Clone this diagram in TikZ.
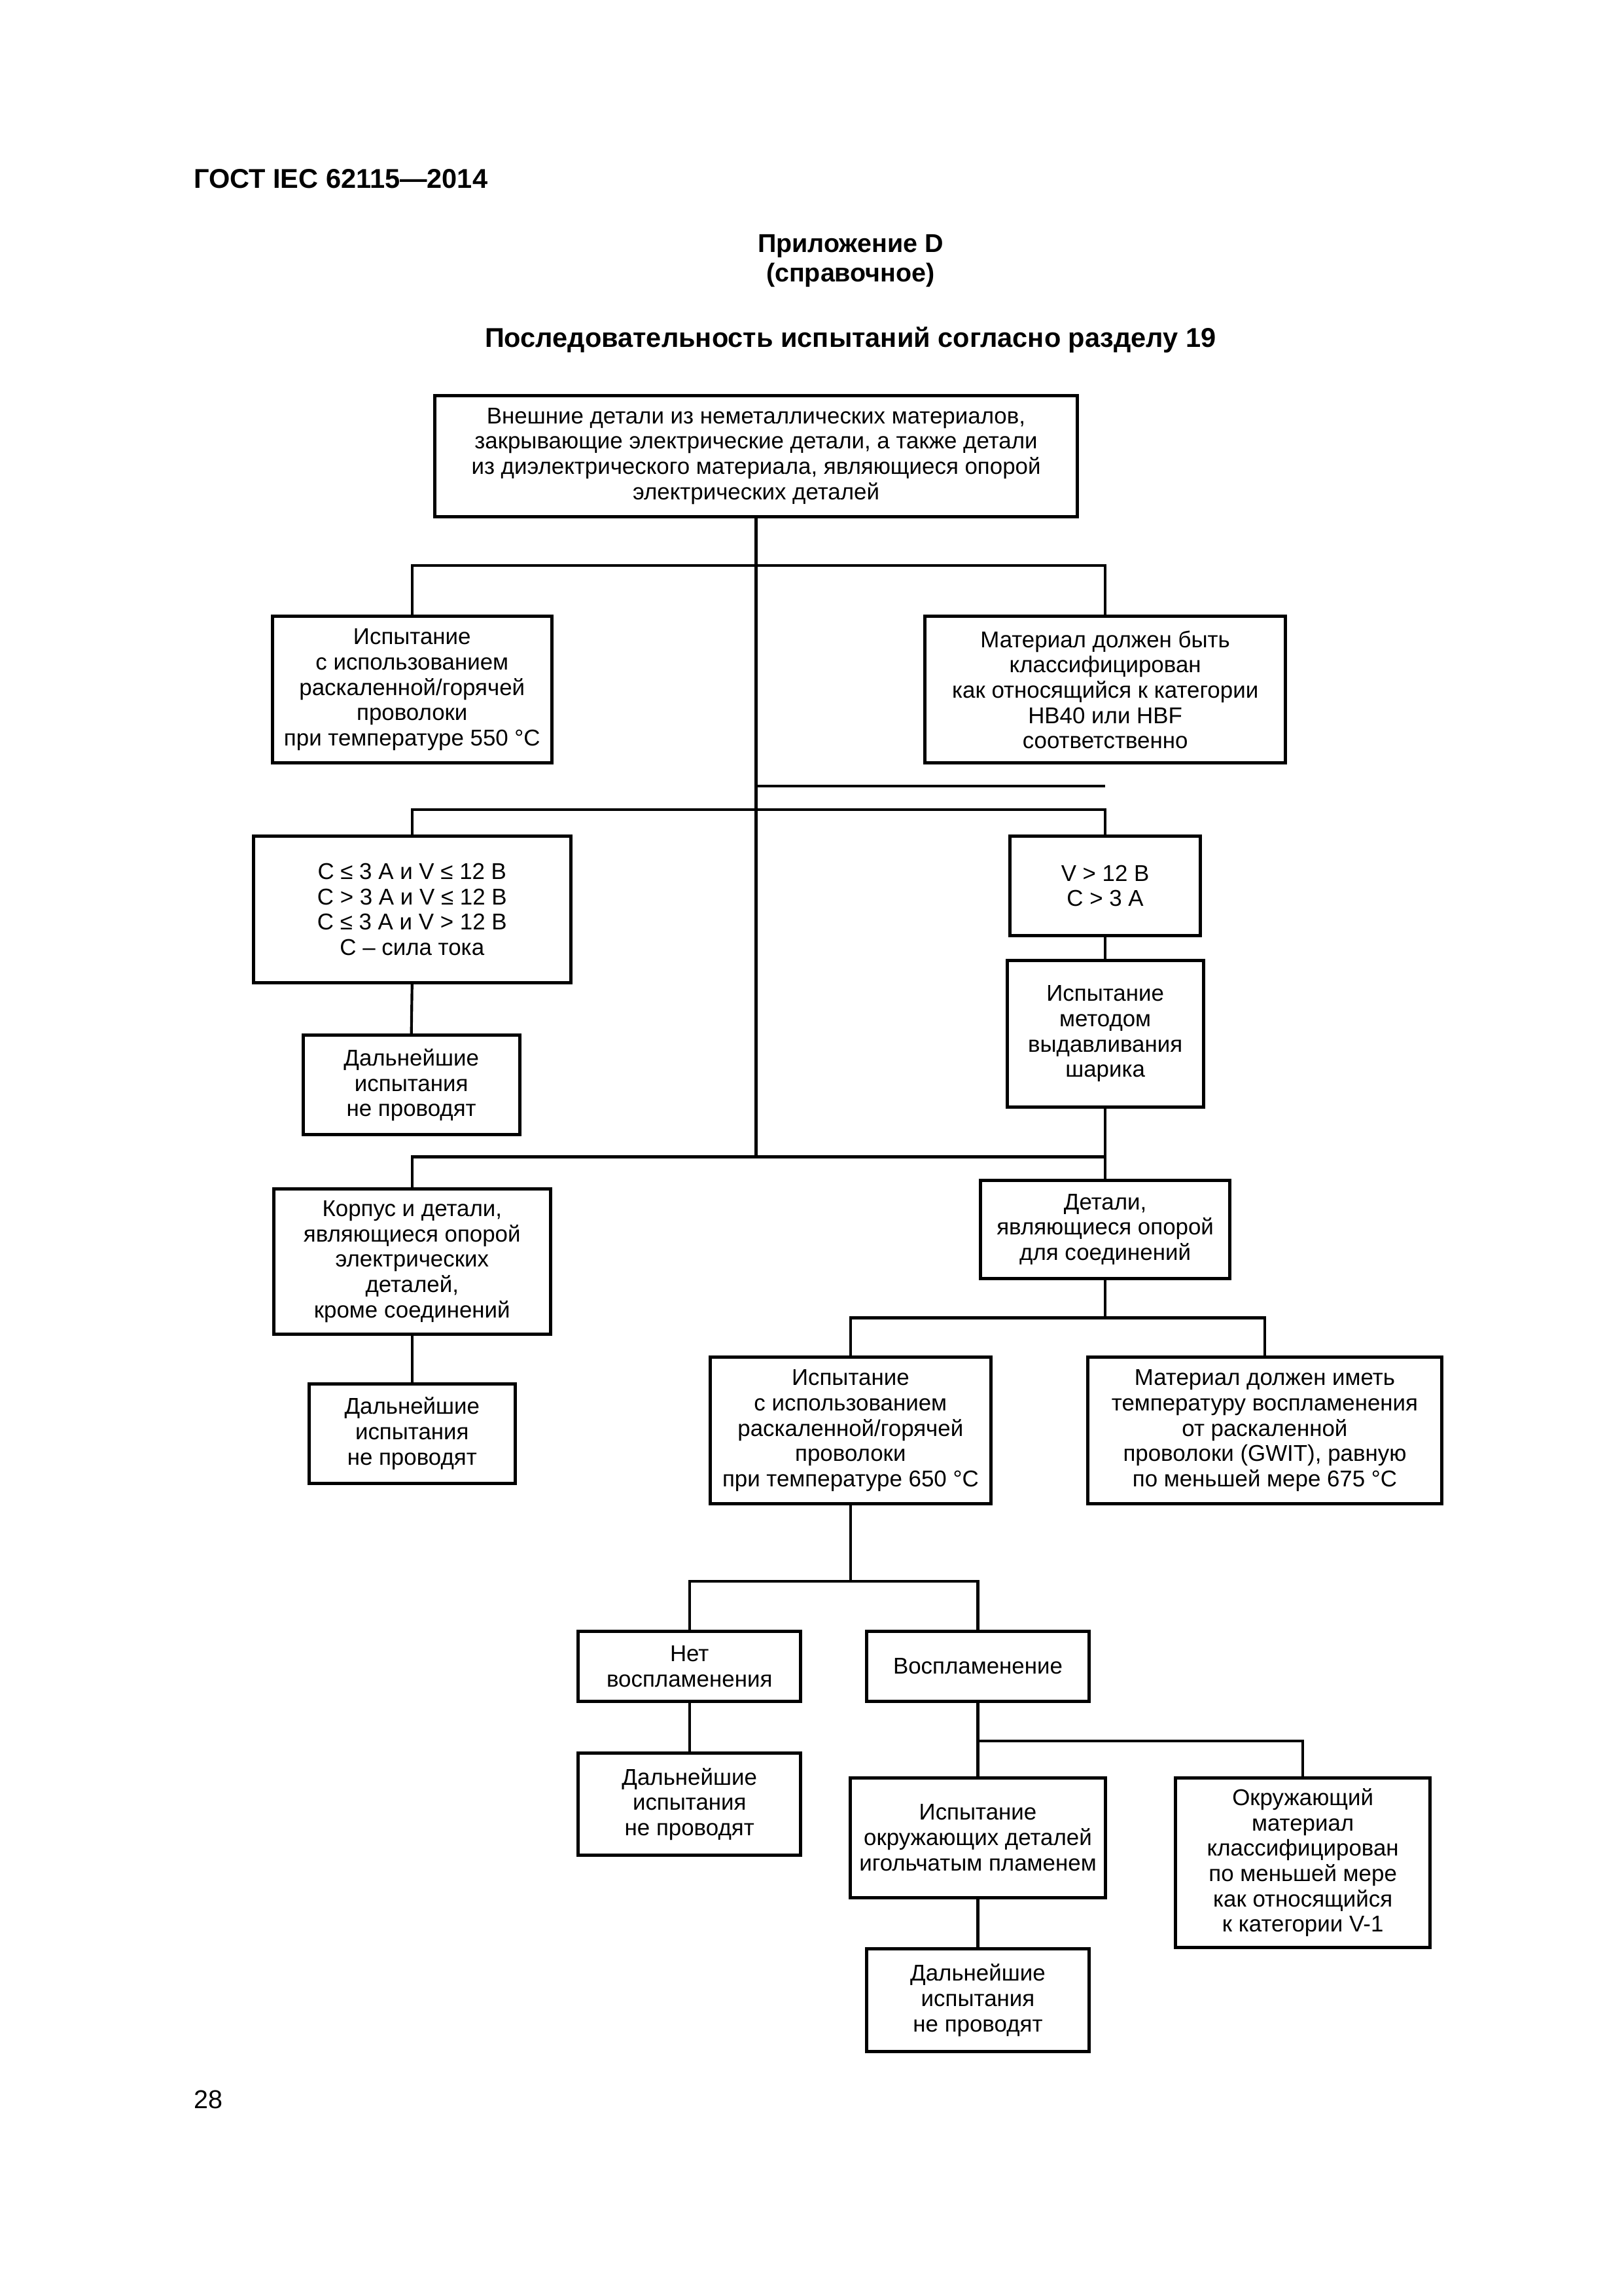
\documentclass[tikz,border=0pt]{standalone}
\usepackage{fontspec}
\setmainfont{Liberation Sans}
\def\u{0.18936mm}
\tikzset{
  box/.style={draw,line width=1.2pt,align=center,inner sep=0pt,font=\fontsize{8.4}{9.3}\selectfont},
  bx/.style n args={4}{box,minimum width={(#3-#1)*\u},minimum height={(#4-#2)*\u},at={({(#1+#3)/2},{(#2+#4)/2})}},
  ln/.style={line width=1pt}
}
\begin{document}
\begin{tikzpicture}[x=0.18936mm,y=-0.18936mm]
\useasboundingbox (0,0) rectangle (1109,1568);
\node[anchor=west,inner sep=0pt,font=\bfseries\fontsize{10}{12}\selectfont] (hdr) at (132,122) {ГОСТ IEC 62115—2014};
\node[font=\bfseries\fontsize{9.5}{11}\selectfont] (app) at (581,168) {Приложение D};
\node[font=\bfseries\fontsize{9.5}{11}\selectfont] (ref) at (581,188) {(справочное)};
\node[font=\bfseries\fontsize{10}{12}\selectfont] (ttl) at (581,232) {Последовательность испытаний согласно разделу 19};
\node[anchor=west,inner sep=0pt,font=\fontsize{9.5}{12}\selectfont] (pg) at (132,1434) {28};

\node[bx={297}{270}{736}{353}] (top) {Внешние детали из неметаллических материалов,\\закрывающие электрические детали, а также детали\\из диэлектрического материала, являющиеся опорой\\электрических деталей};
\node[bx={186}{421}{377}{521}] (b2) {Испытание\\с использованием\\раскаленной/горячей\\проволоки\\при температуре 550 °C};
\node[bx={632}{421}{878}{521}] (b3) {Материал должен быть\\классифицирован\\как относящийся к категории\\HB40 или HBF\\соответственно};
\node[bx={173}{571}{390}{671}] (b4) {C ≤ 3 A и V ≤ 12 В\\C > 3 A и V ≤ 12 В\\C ≤ 3 A и V > 12 В\\C – сила тока};
\node[bx={690}{571}{820}{639}] (b5) {V > 12 В\\C > 3 A};
\node[bx={207}{707}{355}{775}] (b6) {Дальнейшие\\испытания\\не проводят};
\node[bx={688}{656}{822}{756}] (b7) {Испытание\\методом\\выдавливания\\шарика};
\node[bx={187}{812}{376}{911}] (b8) {Корпус и детали,\\являющиеся опорой\\электрических\\деталей,\\кроме соединений};
\node[bx={670}{806}{840}{873}] (b9) {Детали,\\являющиеся опорой\\для соединений};
\node[bx={211}{945}{352}{1013}] (b10) {Дальнейшие\\испытания\\не проводят};
\node[bx={485}{927}{677}{1027}] (b11) {Испытание\\с использованием\\раскаленной/горячей\\проволоки\\при температуре 650 °C};
\node[bx={743}{927}{985}{1027}] (b12) {Материал должен иметь\\температуру воспламенения\\от раскаленной\\проволоки (GWIT), равную\\по меньшей мере 675 °C};
\node[bx={395}{1114}{547}{1162}] (b13) {Нет\\воспламенения};
\node[bx={592}{1114}{744}{1162}] (b14) {Воспламенение};
\node[bx={395}{1197}{547}{1267}] (b15) {Дальнейшие\\испытания\\не проводят};
\node[bx={581}{1214}{755}{1296}] (b16) {Испытание\\окружающих деталей\\игольчатым пламенем};
\node[bx={803}{1214}{977}{1330}] (b17) {Окружающий\\материал\\классифицирован\\по меньшей мере\\как относящийся\\к категории V-1};
\node[bx={592}{1331}{744}{1401}] (b18) {Дальнейшие\\испытания\\не проводят};

\coordinate (t1) at (top.south |- 0,386);
\coordinate (t2) at (top.south |- 0,553);
\coordinate (t3) at (top.south |- 0,790);
\coordinate (s1) at (top.south |- 0,537);
\coordinate (s2) at (b3.south |- 0,537);
\coordinate (t4) at (b9.south |- 0,900);
\coordinate (t5) at (b11.south |- 0,1080);
\coordinate (t6) at (b14.south |- 0,1189);

\draw[ln] (top.south) -- (t3);
\draw[ln] (b2.north) |- (t1) -| (b3.north);
\draw[ln] (s1) -- (s2);
\draw[ln] (b4.north) |- (t2) -| (b5.north);
\draw[ln] (b4.south) -- (b6.north);
\draw[ln] (b5.south) -- (b7.north);
\draw[ln] (b7.south) -- (b9.north);
\draw[ln] (b8.north) |- (t3) -- (t3 -| b9.north);
\draw[ln] (b8.south) -- (b10.north);
\draw[ln] (b9.south) -- (t4);
\draw[ln] (b11.north) |- (t4) -| (b12.north);
\draw[ln] (b11.south) -- (t5);
\draw[ln] (b13.north) |- (t5) -| (b14.north);
\draw[ln] (b13.south) -- (b15.north);
\draw[ln] (b14.south) -- (b16.north);
\draw[ln] (t6) -| (b17.north);
\draw[ln] (b16.south) -- (b18.north);
\end{tikzpicture}
\end{document}
